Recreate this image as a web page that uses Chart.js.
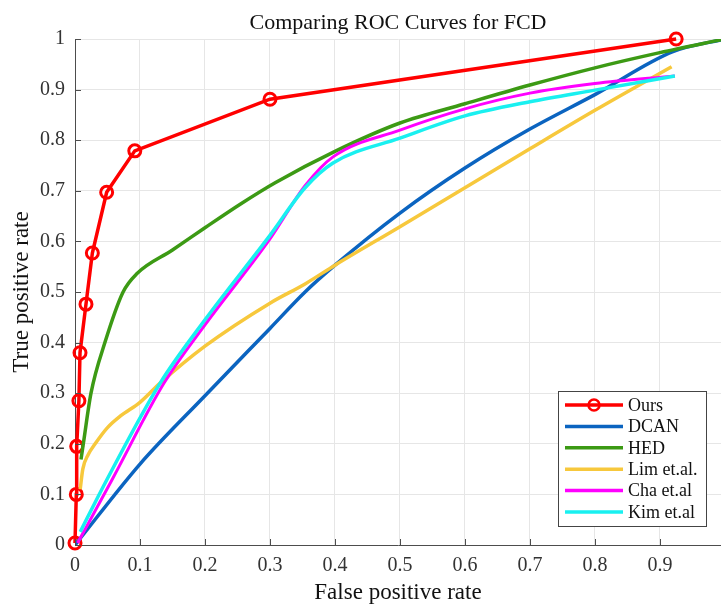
<!DOCTYPE html>
<html>
<head>
<meta charset="utf-8">
<title>Comparing ROC Curves for FCD</title>
<script src="https://cdn.jsdelivr.net/npm/chart.js@4.4.1/dist/chart.umd.min.js"></script>
<style>
  html, body { margin: 0; padding: 0; background: #fff; }
  #wrap { width: 721px; height: 604px; }
</style>
</head>
<body>
<div id="wrap"><canvas id="rocChart" width="721" height="604"></canvas></div>
<script>
// -----------------------------
// Data (FPR / TPR pairs)
// -----------------------------
const xTicks = [0, 0.1, 0.2, 0.3, 0.4, 0.5, 0.6, 0.7, 0.8, 0.9];
const yTicks = [0, 0.1, 0.2, 0.3, 0.4, 0.5, 0.6, 0.7, 0.8, 0.9, 1];

const oursFpr = [0, 0.002, 0.0026, 0.006, 0.0077, 0.0169, 0.0267, 0.0487, 0.092, 0.3, 0.925];
const oursTpr = [0.004, 0.1, 0.195, 0.285, 0.38, 0.476, 0.577, 0.697, 0.779, 0.881, 1.0];

const dcanFpr = [0, 0.1, 0.2, 0.3, 0.354, 0.4, 0.5, 0.6, 0.7, 0.8, 0.92, 1.0];
const dcanTpr = [0, 0.16, 0.295, 0.428, 0.5, 0.553, 0.656, 0.745, 0.822, 0.89, 0.975, 1.0];

const hedFpr = [0.0092, 0.0128, 0.0246, 0.046, 0.074, 0.095, 0.15, 0.2, 0.256, 0.308, 0.4, 0.5, 0.6, 0.7, 0.8, 0.9, 1.0];
const hedTpr = [0.169, 0.2, 0.3, 0.4, 0.5, 0.536, 0.583, 0.627, 0.675, 0.716, 0.778, 0.834, 0.872, 0.909, 0.943, 0.973, 1.0];

const limFpr = [0.008, 0.012, 0.02, 0.031, 0.05, 0.07, 0.1, 0.131, 0.2, 0.3, 0.354, 0.4, 0.5, 0.6, 0.7, 0.8, 0.918];
const limTpr = [0.11, 0.15, 0.178, 0.2, 0.232, 0.255, 0.282, 0.32, 0.393, 0.478, 0.516, 0.553, 0.629, 0.706, 0.783, 0.859, 0.945];

const chaFpr = [0.004, 0.057, 0.137, 0.2, 0.3, 0.354, 0.397, 0.5, 0.6, 0.7, 0.8, 0.923];
const chaTpr = [0.004, 0.129, 0.32, 0.435, 0.605, 0.71, 0.767, 0.82, 0.862, 0.893, 0.912, 0.927];

const kimFpr = [0.008, 0.049, 0.131, 0.2, 0.3, 0.354, 0.397, 0.5, 0.6, 0.7, 0.8, 0.923];
const kimTpr = [0.026, 0.129, 0.32, 0.445, 0.612, 0.706, 0.755, 0.804, 0.848, 0.876, 0.899, 0.927];

const seriesNames = ["Ours", "DCAN", "HED", "Lim et.al.", "Cha et.al", "Kim et.al"];
const seriesColors = ["#ff0000", "#0b64c0", "#3c9a14", "#f7c83c", "#ff00ff", "#19f0f0"];

const FONT = "'Liberation Serif', 'Times New Roman', serif";

function toPoints(xs, ys) {
  return xs.map((x, i) => ({ x, y: ys[i] }));
}

// -----------------------------
// Plugin: MATLAB style inner ticks + legend box
// -----------------------------
const matlabDecor = {
  id: "matlabDecor",
  afterDraw(chart) {
    const { ctx, chartArea, scales } = chart;
    ctx.save();
    ctx.strokeStyle = "#4d4d4d";
    ctx.lineWidth = 1;
    xTicks.forEach(v => {
      const px = Math.round(scales.x.getPixelForValue(v)) + 0.5;
      ctx.beginPath();
      ctx.moveTo(px, chartArea.bottom);
      ctx.lineTo(px, chartArea.bottom - 6);
      ctx.stroke();
    });
    yTicks.forEach(v => {
      const py = Math.round(scales.y.getPixelForValue(v)) + 0.5;
      ctx.beginPath();
      ctx.moveTo(chartArea.left, py);
      ctx.lineTo(chartArea.left + 6, py);
      ctx.stroke();
    });

    // legend
    const boxW = 148, boxH = 135;
    const bx = chartArea.right - 15 - boxW;
    const by = chartArea.bottom - 19 - boxH;
    ctx.fillStyle = "#fff";
    ctx.fillRect(bx, by, boxW, boxH);
    ctx.strokeStyle = "#444";
    ctx.strokeRect(bx + 0.5, by + 0.5, boxW, boxH);

    ctx.font = "18px " + FONT;
    ctx.textBaseline = "middle";
    ctx.textAlign = "left";
    seriesNames.forEach((name, i) => {
      const ry = by + 14 + i * 21.4;
      ctx.strokeStyle = seriesColors[i];
      ctx.lineWidth = 3.5;
      ctx.beginPath();
      ctx.moveTo(bx + 7, ry);
      ctx.lineTo(bx + 65, ry);
      ctx.stroke();
      if (i === 0) {
        ctx.lineWidth = 2.5;
        ctx.beginPath();
        ctx.arc(bx + 36, ry, 5.5, 0, Math.PI * 2);
        ctx.stroke();
      }
      ctx.fillStyle = "#111";
      ctx.fillText(name, bx + 70, ry + 1);
    });
    ctx.restore();
  }
};

// -----------------------------
// Build chart
// -----------------------------
const curveBase = {
  showLine: true,
  fill: false,
  pointRadius: 0,
  borderWidth: 3.5,
  cubicInterpolationMode: "monotone"
};

const datasets = [
  {
    label: seriesNames[0],
    data: toPoints(oursFpr, oursTpr),
    showLine: true,
    borderColor: seriesColors[0],
    borderWidth: 3.5,
    tension: 0,
    pointRadius: 6,
    pointBorderWidth: 3,
    pointBorderColor: seriesColors[0],
    pointBackgroundColor: "rgba(0,0,0,0)",
    clip: false,
    order: 5
  },
  { ...curveBase, label: seriesNames[1], data: toPoints(dcanFpr, dcanTpr), borderColor: seriesColors[1], order: 4 },
  { ...curveBase, label: seriesNames[2], data: toPoints(hedFpr, hedTpr), borderColor: seriesColors[2], order: 3 },
  { ...curveBase, label: seriesNames[3], data: toPoints(limFpr, limTpr), borderColor: seriesColors[3], order: 2 },
  { ...curveBase, label: seriesNames[4], data: toPoints(chaFpr, chaTpr), borderColor: seriesColors[4], borderWidth: 3, order: 1 },
  { ...curveBase, label: seriesNames[5], data: toPoints(kimFpr, kimTpr), borderColor: seriesColors[5], order: 0 }
];

new Chart(document.getElementById("rocChart"), {
  type: "scatter",
  data: { datasets },
  options: {
    responsive: false,
    animation: false,
    layout: { autoPadding: false, padding: { left: 0, right: 0, top: 0, bottom: 0 } },
    plugins: {
      legend: { display: false },
      tooltip: { enabled: false },
      title: {
        display: true,
        fullSize: false,
        text: "Comparing ROC Curves for FCD",
        color: "#111",
        font: { family: FONT, size: 22, weight: "normal" },
        padding: { top: 10, bottom: 2.6 }
      }
    },
    scales: {
      x: {
        type: "linear",
        min: 0,
        max: 0.994,
        afterFit(scale) {
          scale.height = 59;
          scale.paddingLeft = 0;
          scale.paddingRight = 0;
        },
        afterBuildTicks(scale) { scale.ticks = xTicks.map(v => ({ value: v })); },
        grid: { color: "#e6e6e6", lineWidth: 1, drawTicks: false },
        border: { color: "#4d4d4d", width: 1 },
        ticks: {
          color: "#333",
          padding: 9,
          font: { family: FONT, size: 20 },
          callback: v => String(v)
        },
        title: {
          display: true,
          text: "False positive rate",
          color: "#111",
          font: { family: FONT, size: 23 },
          padding: { top: 0, bottom: -3 }
        }
      },
      y: {
        type: "linear",
        min: 0,
        max: 1,
        afterFit(scale) { scale.width = 75; },
        afterBuildTicks(scale) { scale.ticks = yTicks.map(v => ({ value: v })); },
        grid: { color: "#e6e6e6", lineWidth: 1, drawTicks: false },
        border: { color: "#4d4d4d", width: 1 },
        ticks: {
          color: "#333",
          padding: 10,
          font: { family: FONT, size: 20 },
          callback: v => String(v)
        },
        title: {
          display: true,
          text: "True positive rate",
          color: "#111",
          font: { family: FONT, size: 23 },
          padding: { top: 8, bottom: 0 }
        }
      }
    }
  },
  plugins: [matlabDecor]
});
</script>
</body>
</html>
